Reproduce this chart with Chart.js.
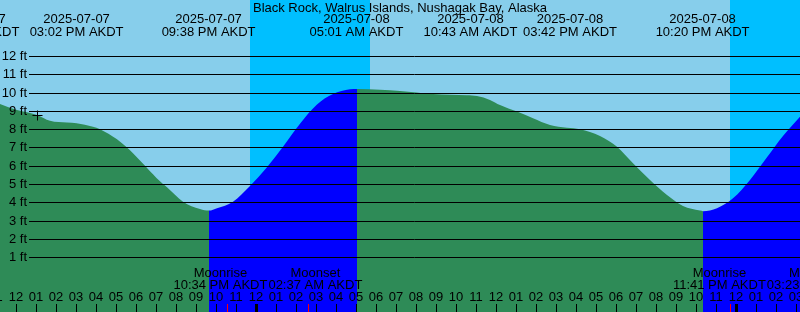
<!DOCTYPE html>
<html>
<head>
<meta charset="utf-8">
<title>Black Rock tides</title>
<script src="https://cdn.jsdelivr.net/npm/chart.js@4.4.1/dist/chart.umd.min.js"></script>
<style>
  html, body { margin: 0; padding: 0; background: #87ceeb; }
  canvas { display: block; }
</style>
</head>
<body>
<canvas id="tide" width="800" height="312"></canvas>
<script>
// Tide graph, hours counted from 2025-07-07 12:00 PM AKDT

const stationName = 'Black Rock, Walrus Islands, Nushagak Bay, Alaska';

const tideHours = [-0.8, 0.05, 1.05, 1.7, 2.55, 3.03, 3.85, 4.2, 5.05, 5.55, 5.85, 6.45, 6.7, 7.35, 7.55, 8.35, 9.2, 9.65,
  10.05, 10.85, 11.7, 12.55, 13.35, 14.2, 15.05, 15.85, 16.7, 17.05,
  18.2, 19.2, 20.85, 22.55, 23.05, 23.7, 24.2, 25.05, 25.85, 26.7, 27.55, 28.2, 29.2, 30.05, 30.85, 31.7, 32.55, 33.35, 34.2, 34.35,
  35.05, 35.85, 36.7, 37.55, 38.35, 39.2];
const tideFeet = [9.38, 9.05, 8.78, 8.46, 8.36, 8.33, 8.14, 8.0, 7.45, 7.0, 6.68, 6.0, 5.7, 5.0, 4.83, 4.04, 3.64, 3.55,
  3.68, 4.04, 4.9, 5.92, 7.04, 8.3, 9.35, 9.92, 10.18, 10.2,
  10.16, 10.09, 9.92, 9.85, 9.81, 9.6, 9.32, 8.96, 8.6, 8.23, 8.08, 8.0, 7.63, 7.04, 6.14, 5.22, 4.4, 3.8, 3.55, 3.52,
  3.68, 4.22, 5.22, 6.46, 7.63, 8.68];

const eventHours = [-2.18, 3.03, 9.63, 17.02, 22.72, 27.7, 34.33];
const eventDates = ['2025-07-07', '2025-07-07', '2025-07-07', '2025-07-08', '2025-07-08', '2025-07-08', '2025-07-08'];
const eventTimes = ['09:49 AM AKDT', '03:02 PM AKDT', '09:38 PM AKDT', '05:01 AM AKDT', '10:43 AM AKDT', '03:42 PM AKDT', '10:20 PM AKDT'];

const moonHours = [10.57, 14.62, 35.68, 39.38];
const moonNames = ['Moonrise', 'Moonset', 'Moonrise', 'Moonset'];
const moonTimes = ['10:34 PM AKDT', '02:37 AM AKDT', '11:41 PM AKDT', '03:23 AM AKDT'];

const nightStart = [11.7, 35.7];
const nightEnd = [17.7, 41];

const hourTicks = [];
for (let h = -1; h <= 39; h++) hourTicks.push(h);
const hourLabels = ['11', '12', '01', '02', '03', '04', '05', '06', '07', '08', '09', '10', '11',
  '12', '01', '02', '03', '04', '05', '06', '07', '08', '09', '10', '11',
  '12', '01', '02', '03', '04', '05', '06', '07', '08', '09', '10', '11',
  '12', '01', '02', '03'];
const midnightHours = [12, 36];

const depthTicks = [1, 2, 3, 4, 5, 6, 7, 8, 9, 10, 11, 12];
const depthLabels = depthTicks.map(v => v + ' ft');

const nowHour = 1.07;
const nowFeet = 8.78;

const DAY = '#87ceeb';
const NIGHT = '#00bfff';
const EBB = '#2e8b57';
const FLOOD = '#0000ff';
const FONT = '13px "Liberation Sans", Arial, sans-serif';

const rising = ctx => ctx.p1.parsed.y > ctx.p0.parsed.y;

// sky shading behind the water
const skyPlugin = {
  id: 'sky',
  beforeDatasetsDraw(chart) {
    const { ctx, chartArea: a, scales: { x } } = chart;
    ctx.save();
    ctx.fillStyle = DAY;
    ctx.fillRect(a.left, a.top, a.width, a.height);
    ctx.fillStyle = NIGHT;
    nightStart.forEach((s, i) => {
      const x0 = Math.round(x.getPixelForValue(s));
      const x1 = Math.round(x.getPixelForValue(nightEnd[i]));
      ctx.fillRect(x0, a.top, x1 - x0, a.height);
    });
    ctx.restore();
  }
};

// spread labels that would overlap
function spread(centers, widths) {
  const out = centers.slice();
  for (let i = 1; i < out.length; i++) {
    const need = (widths[i - 1] + widths[i]) / 2 + 1;
    const gap = out[i] - out[i - 1];
    if (gap < need) {
      const d = (need - gap) / 2;
      out[i - 1] -= d;
      out[i] += d;
    }
  }
  return out;
}

const overlayPlugin = {
  id: 'overlay',
  afterDatasetsDraw(chart) {
    const { ctx, chartArea: a, scales: { x, y } } = chart;
    ctx.save();

    // depth lines
    ctx.strokeStyle = '#000';
    ctx.lineWidth = 1;
    ctx.font = FONT;
    ctx.fillStyle = '#000';
    ctx.textAlign = 'right';
    ctx.textBaseline = 'middle';
    depthTicks.forEach((v, i) => {
      const py = Math.round(y.getPixelForValue(v)) + 0.5;
      ctx.beginPath();
      ctx.moveTo(29, py);
      ctx.lineTo(a.right, py);
      ctx.stroke();
      ctx.fillText(depthLabels[i], 27, py);
    });

    // "now" marker
    const nx = Math.round(x.getPixelForValue(nowHour)) + 0.5;
    const ny = Math.round(y.getPixelForValue(nowFeet)) + 0.5;
    ctx.beginPath();
    ctx.moveTo(nx - 5, ny);
    ctx.lineTo(nx + 5, ny);
    ctx.moveTo(nx, ny - 5);
    ctx.lineTo(nx, ny + 5);
    ctx.stroke();

    // hour ticks and labels
    ctx.textAlign = 'center';
    hourTicks.forEach((h, i) => {
      const px = Math.round(x.getPixelForValue(h));
      const thick = midnightHours.includes(h);
      ctx.fillStyle = '#000';
      ctx.fillRect(thick ? px - 1 : px, a.bottom - 8, thick ? 3 : 1, 8);
      ctx.fillText(hourLabels[i], px, a.bottom - 15);
    });

    // moon events
    ctx.fillStyle = '#ff0000';
    moonHours.forEach(h => {
      const px = Math.round(x.getPixelForValue(h));
      ctx.fillRect(px, a.bottom - 8, 1, 8);
    });
    ctx.fillStyle = '#000';
    const moonW = moonTimes.map(t => ctx.measureText(t).width);
    const moonX = spread(moonHours.map(h => x.getPixelForValue(h)), moonW);
    moonX.forEach((px, i) => {
      ctx.fillText(moonNames[i], px, a.bottom - 39);
      ctx.fillText(moonTimes[i], px, a.bottom - 27);
    });

    // tide events along the top
    const evW = eventTimes.map(t => ctx.measureText(t).width);
    const evX = spread(eventHours.map(h => x.getPixelForValue(h)), evW);
    evX.forEach((px, i) => {
      ctx.fillText(eventDates[i], px, a.top + 19);
      ctx.fillText(eventTimes[i], px, a.top + 32);
    });

    // station name
    ctx.fillText(stationName, (a.left + a.right) / 2, a.top + 8);
    ctx.restore();
  }
};

new Chart(document.getElementById('tide'), {
  type: 'line',
  data: {
    datasets: [
      {
        data: tideHours.map((h, i) => ({ x: h, y: tideFeet[i] })),
        borderColor: 'transparent',
        borderWidth: 0,
        backgroundColor: EBB,
        fill: 'start',
        pointRadius: 0,
        pointBorderWidth: 0,
        pointHoverRadius: 0,
        cubicInterpolationMode: 'monotone',
        segment: {
          backgroundColor: ctx => rising(ctx) ? FLOOD : EBB
        }
      }
    ]
  },
  options: {
    responsive: false,
    animation: false,
    devicePixelRatio: 1,
    layout: { padding: 0 },
    events: [],
    scales: {
      x: { type: 'linear', min: -0.8, max: 39.2, display: false },
      y: { min: -1.99, max: 15.06, display: false }
    },
    plugins: {
      legend: { display: false },
      tooltip: { enabled: false }
    }
  },
  plugins: [skyPlugin, overlayPlugin]
});
</script>
</body>
</html>
